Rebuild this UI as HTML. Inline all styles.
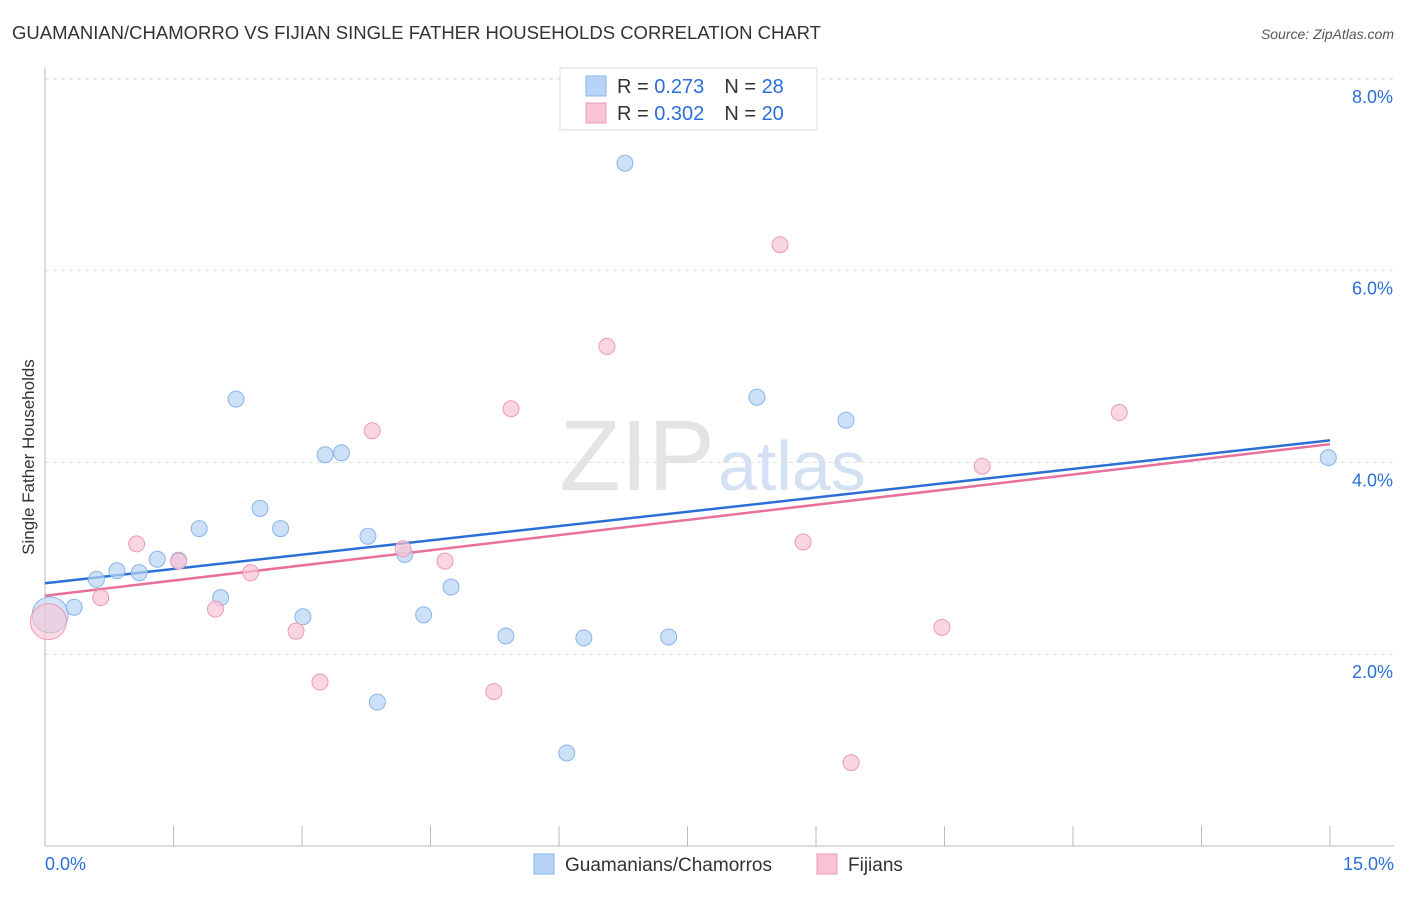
<!DOCTYPE html>
<html><head><meta charset="utf-8"><style>
body{margin:0;background:#fff;font-family:"Liberation Sans",sans-serif}
svg text{font-family:"Liberation Sans",sans-serif}
</style></head><body>
<svg width="1406" height="892" id="c">
<text x="12" y="39" font-size="18.5" fill="#333">GUAMANIAN/CHAMORRO VS FIJIAN SINGLE FATHER HOUSEHOLDS CORRELATION CHART</text>
<text x="1394" y="39" font-size="14" fill="#555" text-anchor="end" font-style="italic">Source: ZipAtlas.com</text>
<text x="34" y="457" font-size="17" fill="#333" text-anchor="middle" transform="rotate(-90 34 457)">Single Father Households</text>
<text x="715" y="490" font-size="100" fill="#e4e4e4" text-anchor="end" font-family="Liberation Serif">ZIP</text>
<text x="718" y="490" font-size="70" fill="#d3e1f3">atlas</text>
<g id="grid"></g><g id="axes"></g><g id="lines"></g><g id="pts"></g>
<g>
<rect x="560" y="68" width="257" height="62" fill="#fff" stroke="#ddd"/>
<rect x="586" y="76" width="20" height="20" fill="#b7d3f5" stroke="#8ab4ea"/>
<rect x="586" y="103" width="20" height="20" fill="#f8c4d4" stroke="#ee9ab5"/>
<text x="617" y="93" font-size="20" fill="#333">R = <tspan fill="#2a6fd6">0.273</tspan><tspan dx="20">N = </tspan><tspan fill="#2a6fd6">28</tspan></text>
<text x="617" y="120" font-size="20" fill="#333">R = <tspan fill="#2a6fd6">0.302</tspan><tspan dx="20">N = </tspan><tspan fill="#2a6fd6">20</tspan></text>
</g>
<g>
<rect x="534" y="854" width="20" height="20" fill="#b7d3f5" stroke="#8ab4ea"/>
<text x="565" y="871" font-size="19" fill="#333">Guamanians/Chamorros</text>
<rect x="817" y="854" width="20" height="20" fill="#f8c4d4" stroke="#ee9ab5"/>
<text x="848" y="871" font-size="19" fill="#333">Fijians</text>
</g>
</svg>
<script>
const blueX=[0.06,0.34,0.60,0.84,1.10,1.31,1.56,1.80,2.05,2.23,2.51,2.75,3.01,3.27,3.46,3.77,3.88,4.20,4.42,4.74,5.38,6.09,6.29,6.77,7.28,8.31,9.35,14.98];
const blueY=[2.41,2.49,2.78,2.87,2.85,2.99,2.98,3.31,2.59,4.66,3.52,3.31,2.39,4.08,4.10,3.23,1.50,3.04,2.41,2.70,2.19,0.97,2.17,7.12,2.18,4.68,4.44,4.05];
const pinkX=[0.04,0.65,1.07,1.56,1.99,2.40,2.93,3.21,3.82,4.18,4.67,5.24,5.44,6.56,8.58,8.85,9.41,10.47,10.94,12.54];
const pinkY=[2.34,2.59,3.15,2.97,2.47,2.85,2.24,1.71,4.33,3.10,2.97,1.61,4.56,5.21,6.27,3.17,0.87,2.28,3.96,4.52];
const blueTrend=[2.74,4.23];
const pinkTrend=[2.61,4.19];
const yTicks=[2,4,6,8];
const xTickLabels=["0.0%","15.0%"];
const NS="http://www.w3.org/2000/svg";
const sx=v=>45+v*(1285/15), sy=v=>846-v*95.9;
function mk(tag,parent,attrs){const e=document.createElementNS(NS,tag);for(const k in attrs)e.setAttribute(k,attrs[k]);document.getElementById(parent).appendChild(e);return e;}
yTicks.forEach(t=>{
 const l=mk('line','grid',{x1:45,x2:1394,y1:sy(t),y2:sy(t),stroke:'#ddd','stroke-dasharray':'4,4'});
 
 
 const tx=mk('text','grid',{x:1393,y:sy(t)+24,'font-size':18,fill:'#2a6fd6','text-anchor':'end'});tx.textContent=t.toFixed(1)+'%';
 
 
});
const topLine=mk('line','grid',{x1:45,x2:1394,y1:79,y2:79,stroke:'#ddd','stroke-dasharray':'4,4'});


const ya=mk('line','axes',{x1:45,x2:45,y1:68,y2:846,stroke:'#bbb'});


const xa=mk('line','axes',{x1:45,x2:1394,y1:846,y2:846,stroke:'#bbb'});


for(let i=0;i<=10;i++){const v=i*1.5;const t=mk('line','axes',{x1:sx(v),x2:sx(v),y1:826,y2:846,stroke:'#bbb'});
 
 }
[[0,'start',45],[15,'end',1394]].forEach((d,i)=>{const t=mk('text','axes',{x:d[2],y:870,'font-size':18,fill:'#2a6fd6','text-anchor':d[1]});t.textContent=xTickLabels[i];
 
 });
function pts(xs,ys,fill,stroke,name){xs.forEach((x,i)=>{const big=i===0;const c=mk('circle','pts',{cx:sx(x),cy:sy(ys[i]),r:big?18:8,fill:fill,stroke:stroke,'stroke-width':1,'fill-opacity':big?0.6:0.7});
 
 });}
pts(blueX,blueY,'#b7d3f5','#8ab4ea','point-guamanian');
pts(pinkX,pinkY,'#f8c4d4','#ee9ab5','point-fijian');
const bl=mk('line','lines',{x1:sx(0),y1:sy(blueTrend[0]),x2:sx(15),y2:sy(blueTrend[1]),stroke:'#2a6fd6','stroke-width':2.5});


const pl=mk('line','lines',{x1:sx(0),y1:sy(pinkTrend[0]),x2:sx(15),y2:sy(pinkTrend[1]),stroke:'#e8709a','stroke-width':2.5});


</script>
</body></html>
